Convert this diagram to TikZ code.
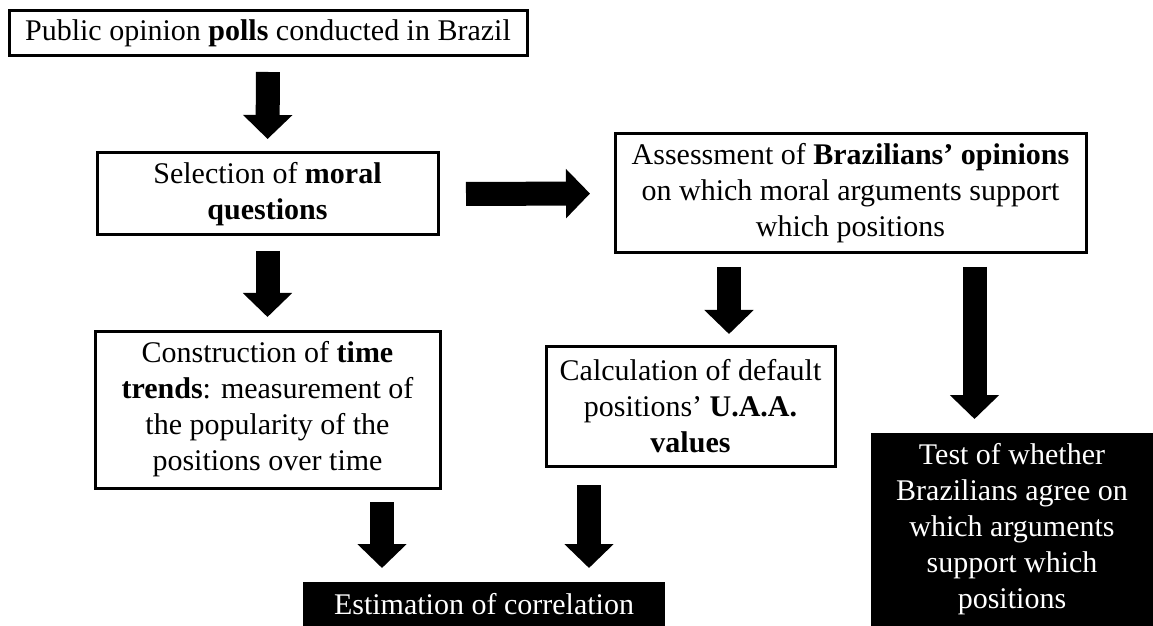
\documentclass[tikz,border=0pt]{standalone}
\usepackage{fontspec}
\setmainfont{Liberation Serif}
\usetikzlibrary{arrows.meta}

\tikzset{
	box/.style={draw,line width=1.5pt,align=center,inner sep=0,outer sep=0,font=\fontsize{15}{18}\selectfont},
	blackbox/.style={fill=black,text=white,align=center,inner sep=0,outer sep=0,font=\fontsize{15}{18}\selectfont},
	bigarrow/.style={line width=12pt,-{Triangle[width=24pt,length=12pt]},shorten <=7pt,shorten >=7pt},
}

\begin{document}
\begin{tikzpicture}[x=0.5pt,y=-0.5pt]
	\useasboundingbox (0,0) rectangle (1153,626);
	\node[box,minimum width=259pt,minimum height=22.5pt] (polls) at (268,33.5) {Public opinion \textbf{polls} conducted in Brazil};
	\node[box,minimum width=170.5pt,minimum height=41pt] (moral) at (267.5,194) {Selection of \textbf{moral}\\\textbf{questions}};
	\node[box,minimum width=235.5pt,minimum height=59.5pt] (assess) at (850.5,193.5) {Assessment of \textbf{Brazilians' opinions}\\on which moral arguments support\\which positions};
	\node[box,minimum width=172.5pt,minimum height=78.5pt] (trends) at (267.5,409.5) {Construction of \textbf{time}\\\textbf{trends}: measurement of\\the popularity of the\\positions over time};
	\node[box,minimum width=144.5pt,minimum height=60pt] (uaa) at (690.5,406) {Calculation of default\\positions' \textbf{U.A.A.}\\\textbf{values}};
	\node[blackbox,minimum width=181pt,minimum height=22pt] (corr) at (484,604) {Estimation of correlation};
	\node[blackbox,minimum width=141pt,minimum height=96.5pt] (test) at (1012,529.5) {Test of whether\\Brazilians agree on\\which arguments\\support which\\positions};
	\draw[bigarrow,shorten <=8pt] (polls.south) -- (moral.north);
	\draw[bigarrow,shorten <=8pt] (moral.south) -- (trends.north);
	\draw[bigarrow,shorten <=14pt,shorten >=12.5pt] (moral.east) -- (assess.west);
	\draw[bigarrow,shorten >=6pt] (assess.south -| 729,0) -- (uaa.north -| 729,0);
	\draw[bigarrow] (assess.south -| 974.5,0) -- (test.north -| 974.5,0);
	\draw[bigarrow] (trends.south -| 382,0) -- (corr.north -| 382,0);
	\draw[bigarrow,shorten <=9.5pt] (uaa.south -| 589,0) -- (corr.north -| 589,0);
\end{tikzpicture}
\end{document}
